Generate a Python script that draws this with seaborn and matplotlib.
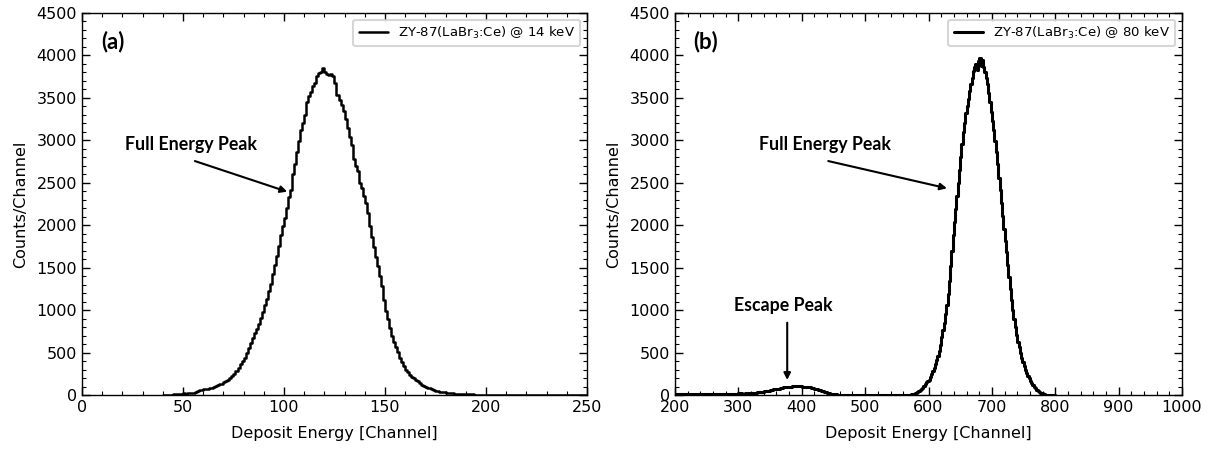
import numpy as np
import pandas as pd
import matplotlib
matplotlib.use("Agg")
import matplotlib.pyplot as plt
from matplotlib.ticker import MultipleLocator
import seaborn as sns

# ---------------- data ----------------
# Panel (a): 14 keV, 1-channel bins starting at channel 40
a_start = 40
a_counts = [
    0, 0, 1, 2, 3,
    12, 8, 10, 14, 15,
    18, 16, 20, 22, 25,
    28, 30, 45, 60, 62,
    65, 68, 72, 80, 88,
    95, 105, 115, 125, 135,
    150, 165, 180, 200, 225,
    250, 280, 320, 360, 400,
    440, 490, 550, 610, 670,
    730, 780, 840, 910, 980,
    1060, 1130, 1220, 1310, 1420,
    1530, 1640, 1760, 1880, 1990,
    2090, 2200, 2330, 2420, 2600,
    2720, 2860, 2990, 3120, 3200,
    3300, 3450, 3520, 3570, 3640,
    3680, 3760, 3790, 3800, 3850,
    3800, 3780, 3770, 3780, 3760,
    3670, 3530, 3480, 3420, 3340,
    3250, 3150, 3040, 2950, 2780,
    2700, 2640, 2500, 2440, 2350,
    2260, 2140, 1990, 1860, 1740,
    1630, 1520, 1400, 1280, 1120,
    990, 900, 790, 700, 630,
    570, 510, 440, 390, 340,
    300, 270, 240, 215, 195,
    175, 160, 140, 120, 108,
    98, 88, 78, 68, 60,
    52, 46, 40, 35, 30,
    27, 24, 21, 18, 16,
    15, 13, 12, 11, 10,
    9, 8, 8, 7, 6,
    6, 5, 5, 4, 4,
    3, 2, 4, 3, 2, 3, 5, 2, 3, 4,
    2, 3, 2, 4, 3, 5, 3, 2, 3, 4,
    3, 2, 4, 6, 3, 2, 3, 4, 2, 3,
    4, 3, 2, 5, 3, 2, 4, 3, 2, 3,
    2, 3, 4, 2, 3, 5, 3, 2, 3, 2,
]

# Panel (b): 80 keV
# low-energy part (background + escape peak): 5-channel bins from 200 to 560
b_low_start = 200
b_low_width = 5
b_low_counts = [
    10, 12, 9, 11, 13, 10, 12, 14, 11, 13, 12, 15, 13, 14, 16, 13, 15, 17, 14, 16,
    18, 17, 20, 22, 25, 28, 33, 38,
    44, 52, 60, 68, 76, 84, 90, 95,
    99, 102, 104, 101, 98, 95, 90, 84,
    74, 62, 50, 38, 26, 16, 9, 4,
    2, 1, 1, 1, 0, 1, 0, 0, 1, 0, 0, 0, 0, 0, 0, 0, 0, 0, 1, 1,
]
# full-energy peak: 2-channel bins from 560 to 800
b_peak_start = 560
b_peak_width = 2
b_peak_counts = [
    1, 2, 2, 3, 4,
    6, 8, 11, 15, 19,
    25, 35, 45, 58, 72,
    88, 105, 125, 150, 170,
    180, 215, 250, 285, 320,
    360, 410, 460, 520, 590,
    680, 760, 850, 950, 1060,
    1190, 1340, 1520, 1700, 1890,
    2040, 2190, 2340, 2500, 2650,
    2800, 2960, 3100, 3210, 3320,
    3410, 3490, 3580, 3660, 3740,
    3820, 3860, 3900, 3830, 3940,
    3970, 3880, 3950, 3860, 3800,
    3740, 3660, 3560, 3450, 3330,
    3230, 3120, 2990, 2860, 2720,
    2560, 2420, 2260, 2110, 1960,
    1820, 1680, 1530, 1390, 1250,
    1120, 1000, 890, 800, 710,
    630, 560, 500, 440, 390,
    345, 300, 260, 225, 195,
    165, 140, 115, 95, 78,
    62, 48, 36, 27, 20,
    14, 9, 6, 4, 2,
    1, 1, 0, 0, 0,
]

label_a = r"ZY-87(LaBr$_3$:Ce) @ 14 keV"
label_b = r"ZY-87(LaBr$_3$:Ce) @ 80 keV"

# ---------------- figure ----------------
sns.set_style("ticks")
plt.rcParams["font.family"] = ["DejaVu Sans"]
plt.rcParams["text.color"] = "black"
plt.rcParams["axes.labelcolor"] = "black"
plt.rcParams["xtick.color"] = "black"
plt.rcParams["ytick.color"] = "black"

fig = plt.figure(figsize=(12.2, 4.5), dpi=100)
ax1 = fig.add_axes([0.0672, 0.1222, 0.4139, 0.8489])
ax2 = fig.add_axes([0.5533, 0.1222, 0.4156, 0.8489])


def centers(start, width, counts):
    return np.arange(start, start + width * len(counts), width) + width / 2


a_end = a_start + len(a_counts)
dfa = pd.DataFrame({"ch": centers(a_start, 1, a_counts),
                    "n": np.asarray(a_counts, dtype=float)})
b_low_end = b_low_start + b_low_width * len(b_low_counts)
dfb_low = pd.DataFrame({"ch": centers(b_low_start, b_low_width, b_low_counts),
                        "n": np.asarray(b_low_counts, dtype=float)})
b_peak_end = b_peak_start + b_peak_width * len(b_peak_counts)
dfb_peak = pd.DataFrame({"ch": centers(b_peak_start, b_peak_width, b_peak_counts),
                         "n": np.asarray(b_peak_counts, dtype=float)})

sns.histplot(data=dfa, x="ch", weights="n", binwidth=1, binrange=(a_start, a_end),
             element="step", fill=False, color="black", linewidth=1.8,
             ax=ax1, label=label_a)
sns.histplot(data=dfb_low, x="ch", weights="n", binwidth=b_low_width,
             binrange=(b_low_start, b_low_end),
             element="step", fill=False, color="black", linewidth=2.2, ax=ax2)
sns.histplot(data=dfb_peak, x="ch", weights="n", binwidth=b_peak_width,
             binrange=(b_peak_start, b_peak_end),
             element="step", fill=False, color="black", linewidth=2.2,
             ax=ax2, label=label_b)

ann_font = dict(family=["Lato", "DejaVu Sans"], fontweight="bold", color="black")

for ax, xlim, xmaj, xmin in [(ax1, (0, 250), 50, 10), (ax2, (200, 1000), 100, 20)]:
    ax.set_xlim(*xlim)
    ax.set_ylim(0, 4500)
    ax.xaxis.set_major_locator(MultipleLocator(xmaj))
    ax.xaxis.set_minor_locator(MultipleLocator(xmin))
    ax.yaxis.set_major_locator(MultipleLocator(500))
    ax.yaxis.set_minor_locator(MultipleLocator(100))
    ax.tick_params(which="both", direction="in", top=True, right=True,
                   colors="black", labelsize=11.5)
    ax.tick_params(which="major", length=6, width=1)
    ax.tick_params(which="minor", length=3, width=0.8)
    for s in ax.spines.values():
        s.set_visible(True)
        s.set_color("black")
        s.set_linewidth(1.0)
    ax.set_xlabel("Deposit Energy [Channel]", fontsize=11.5, labelpad=8, color="black")
    ax.set_ylabel("Counts/Channel", fontsize=11.5, labelpad=6, color="black")
    leg = ax.legend(loc="upper right", fontsize=9.5, frameon=True,
                    handlelength=2.2, borderpad=0.4, fancybox=True)
    leg.get_frame().set_edgecolor("#cccccc")
    leg.get_frame().set_linewidth(1.5)
    for t in leg.get_texts():
        t.set_color("black")

ax1.text(15.5, 4164, "(a)", fontsize=16, ha="center", va="center", **ann_font)
ax2.text(248.5, 4164, "(b)", fontsize=16, ha="center", va="center", **ann_font)

ax1.text(21.3, 2956, "Full Energy Peak", fontsize=12.8, ha="left", va="center", **ann_font)
ax1.annotate("", xy=(101.6, 2395), xytext=(55.9, 2756),
             arrowprops=dict(arrowstyle="-|>", color="black", lw=1.5,
                             mutation_scale=10, shrinkA=0, shrinkB=0))

ax2.text(332.6, 2956, "Full Energy Peak", fontsize=12.8, ha="left", va="center", **ann_font)
ax2.annotate("", xy=(629, 2435), xytext=(441.8, 2756),
             arrowprops=dict(arrowstyle="-|>", color="black", lw=1.5,
                             mutation_scale=10, shrinkA=0, shrinkB=0))

ax2.text(371, 1054, "Escape Peak", fontsize=12.8, ha="center", va="center", **ann_font)
ax2.annotate("", xy=(377, 177), xytext=(377, 852),
             arrowprops=dict(arrowstyle="-|>", color="black", lw=1.5,
                             mutation_scale=10, shrinkA=0, shrinkB=0))

fig.savefig("out.png", dpi=100)
